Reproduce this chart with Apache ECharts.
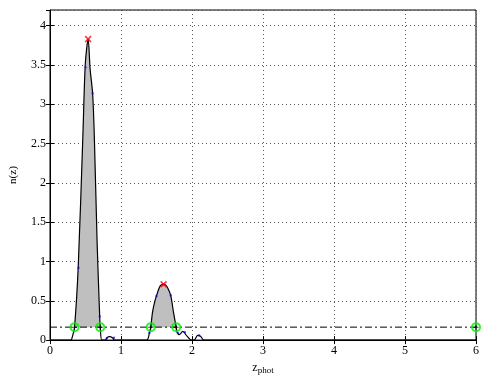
<!DOCTYPE html>
<html><head><meta charset="utf-8">
<script src="https://cdn.jsdelivr.net/npm/echarts@6/dist/echarts.min.js"></script>
<style>html,body{margin:0;padding:0;background:#fff}#c{width:482px;height:380px}</style>
</head><body><div id="c"></div>
<script>
// n(z) curve
const curveZ = [0, 0.29, 0.32, 0.346, 0.397, 0.463, 0.497, 0.537, 0.565, 0.6, 0.624, 0.664, 0.70, 0.708, 0.73,
  0.78, 0.80, 0.84, 0.88, 0.91, 1.36, 1.40, 1.419, 1.443, 1.47, 1.498, 1.545, 1.57, 1.60, 1.63, 1.66, 1.70, 1.74, 1.777, 1.79, 1.82, 1.87, 1.93, 1.99,
  2.03, 2.08, 2.12, 2.17, 6.0];
const curveN = [0, 0, 0.06, 0.165, 0.92, 2.6, 3.51, 3.83, 3.45, 3.14, 2.6, 1.23, 0.30, 0.165, 0,
  0, 0.03, 0.045, 0.03, 0, 0, 0.09, 0.165, 0.35, 0.47, 0.56, 0.68, 0.705, 0.71, 0.70, 0.66, 0.57, 0.35, 0.165, 0.10, 0.07, 0.11, 0.05, 0,
  0, 0.06, 0.05, 0, 0];
// sample points (blue dots)
const sampleZ = [0.4, 0.5, 0.6, 0.7, 0.8, 0.9, 1.4, 1.5, 1.6, 1.7, 1.8, 1.9, 2.1];
const sampleN = [0.92, 3.47, 3.14, 0.30, 0.02, 0.03, 0.09, 0.56, 0.71, 0.57, 0.09, 0.10, 0.06];
// peaks (red crosses)
const peakZ = [0.537, 1.60];
const peakN = [3.83, 0.71];
// threshold and crossings (green circles)
const threshold = 0.165;
const crossZ = [0.346, 0.708, 1.419, 1.777, 6.0];
// intervals above threshold (shaded)
const intervals = [[0.346, 0.708], [1.419, 1.777]];
const xTicks = [0, 1, 2, 3, 4, 5, 6];
const yTicks = [0, 0.5, 1, 1.5, 2, 2.5, 3, 3.5, 4];

const curve = curveZ.map((z, i) => [z, curveN[i]]);
const fill = [];
intervals.forEach((iv, k) => {
  curve.forEach(p => { if (p[0] >= iv[0] && p[0] <= iv[1]) fill.push(p); });
  if (k < intervals.length - 1) fill.push([(iv[1] + intervals[k + 1][0]) / 2, null]);
});
const font = 'Liberation Serif';
const grid = {left: 47.5, right: 4, top: 10, bottom: 31, show: true, borderColor: '#000', borderWidth: 1};
const split = {show: true, lineStyle: {color: '#555', type: [1, 3], width: 1}};
const chart = echarts.init(document.getElementById('c'));
chart.setOption({
  animation: false,
  grid: grid,
  xAxis: [{
    type: 'value', min: xTicks[0], max: xTicks[xTicks.length - 1], interval: 1,
    axisLine: {lineStyle: {color: '#000'}}, axisTick: {inside: true, length: 4, lineStyle: {color: '#000'}},
    axisLabel: {color: '#000', fontFamily: font, fontSize: 12, margin: 5},
    splitLine: split,
    name: '{z|z}{s|phot}', nameLocation: 'middle', nameGap: 14,
    nameTextStyle: {rich: {z: {fontFamily: font, fontSize: 12, color: '#000', padding: [0, 0, 5, 0]},
                           s: {fontFamily: font, fontSize: 9, color: '#000'}}}
  }, {
    type: 'value', position: 'top', min: 0, max: 6, interval: 1,
    axisLine: {show: false}, axisTick: {inside: true, length: 4, lineStyle: {color: '#000'}},
    axisLabel: {show: false}, splitLine: {show: false}
  }],
  yAxis: [{
    type: 'value', min: 0, max: 4.2, interval: 0.5,
    axisLine: {show: true, lineStyle: {color: '#000'}}, axisTick: {show: true, inside: true, length: 4, lineStyle: {color: '#000'}},
    axisLabel: {color: '#000', fontFamily: font, fontSize: 12, margin: 4, showMaxLabel: false,
      formatter: v => yTicks.indexOf(v) >= 0 ? String(v) : ''},
    splitLine: split,
    name: 'n(z)', nameLocation: 'middle', nameGap: 31,
    nameTextStyle: {fontFamily: font, fontSize: 11, color: '#000'}
  }, {
    type: 'value', position: 'right', min: 0, max: 4.2, interval: 0.5,
    axisLine: {show: false}, axisTick: {show: true, inside: true, length: 4, lineStyle: {color: '#000'}},
    axisLabel: {show: false}, splitLine: {show: false}
  }],
  series: [
    {type: 'line', data: fill, symbol: 'none', lineStyle: {width: 0}, smooth: 0.3,
     areaStyle: {color: '#bfbfbf', opacity: 1, origin: threshold}, z: 1},
    {type: 'line', data: curve, symbol: 'none', smooth: 0.3, lineStyle: {color: '#000', width: 1.2}, z: 3},
    {type: 'line', data: [[0, threshold], [6, threshold]], symbol: 'none',
     lineStyle: {color: '#000', width: 1, type: [7, 3, 2, 3]}, z: 4},
    {type: 'scatter', data: sampleZ.map((z, i) => [z, sampleN[i]]), symbol: 'rect', symbolSize: 2,
     itemStyle: {color: '#0000ff'}, z: 5},
    {type: 'scatter', data: crossZ.map(z => [z, threshold]), symbol: 'circle', symbolSize: 8,
     itemStyle: {color: 'rgba(0,0,0,0)', borderColor: '#00ee00', borderWidth: 2}, z: 6},
    {type: 'scatter', data: crossZ.map(z => [z, threshold]), symbol: 'path://M2,0H3V2H5V3H3V5H2V3H0V2H2Z', symbolSize: 5,
     itemStyle: {color: '#000'}, z: 7},
    {type: 'scatter', data: peakZ.map((z, i) => [z, peakN[i]]), symbol: 'path://M0,1L1,0L3,2L5,0L6,1L4,3L6,5L5,6L3,4L1,6L0,5L2,3Z', symbolSize: 7,
     itemStyle: {color: '#ff0000'}, z: 8}
  ]
});
</script></body></html>
